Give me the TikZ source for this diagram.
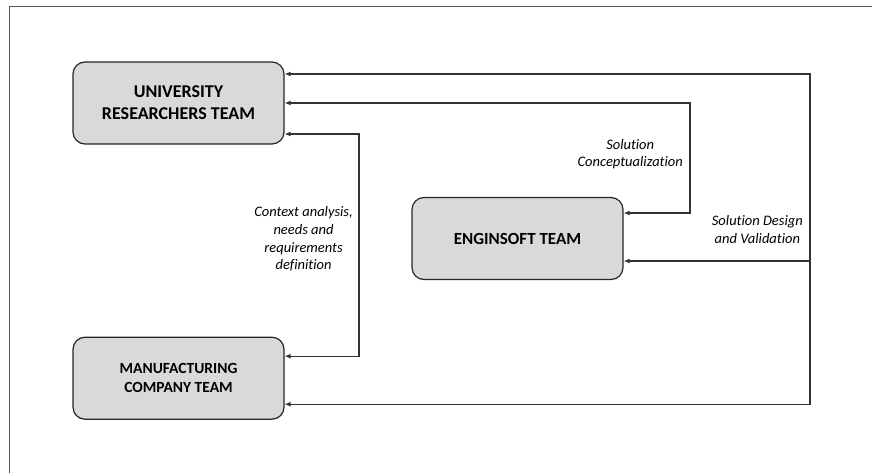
\documentclass[tikz,border=0pt]{standalone}
\usepackage{fontspec}
\setmainfont{Carlito}[Ligatures=NoCommon]
\usetikzlibrary{positioning,arrows.meta}

\begin{document}
\begin{tikzpicture}[x=1pt,y=-1pt,>={Latex[length=6pt,width=5pt]},
  team/.style={draw=black!85,fill=black!15,line width=1.2pt,rounded corners=12pt,minimum width=211pt,minimum height=82pt,align=center,font=\bfseries\fontsize{18}{22}\selectfont},
  lbl/.style={align=center,inner sep=0pt,font=\itshape\fontsize{14.5}{17.7}\selectfont},
  link/.style={->,draw=black!80,line width=1.2pt}]
            \useasboundingbox (0,0) rectangle (872,473);
            \draw[black!65] (9,473) |- (872,6);

            \node[team] (univ) at (178.5,103) {UNIVERSITY\\RESEARCHERS TEAM};
            \node[team, font=\bfseries\fontsize{17}{20}\selectfont] (eng) at (517.5,238.5) {ENGINSOFT TEAM};
            \node[team, font=\bfseries\fontsize{15.5}{19.3}\selectfont] (manu) [below=192pt of univ] {MANUFACTURING\\COMPANY TEAM};

            \coordinate (ctx) at (359,239);
            \coordinate (sc) at (690,154);
            \coordinate (sdv) at (810,261);

            \draw[link] (ctx) |- ([yshift=-31pt]univ.east);
            \draw[link] (ctx) |- ([yshift=22pt]manu.east);
            \draw[link] (sc) |- (univ.east);
            \draw[link] (sc) |- ([yshift=25.5pt]eng.east);
            \draw[link] (sdv) |- ([yshift=29pt]univ.east);
            \draw[link] (sdv) -- ([yshift=-22.5pt]eng.east);
            \draw[link] (sdv) |- ([yshift=-26pt]manu.east);

            \node[lbl, left=6pt] at (ctx) {Context analysis,\\needs and\\requirements\\definition};
            \node[lbl, left=7pt] at (sc) {Solution\\Conceptualization};
            \node[lbl, left=7pt] at ([yshift=31.5pt]sdv) {Solution Design\\and Validation};
\end{tikzpicture}
\end{document}
